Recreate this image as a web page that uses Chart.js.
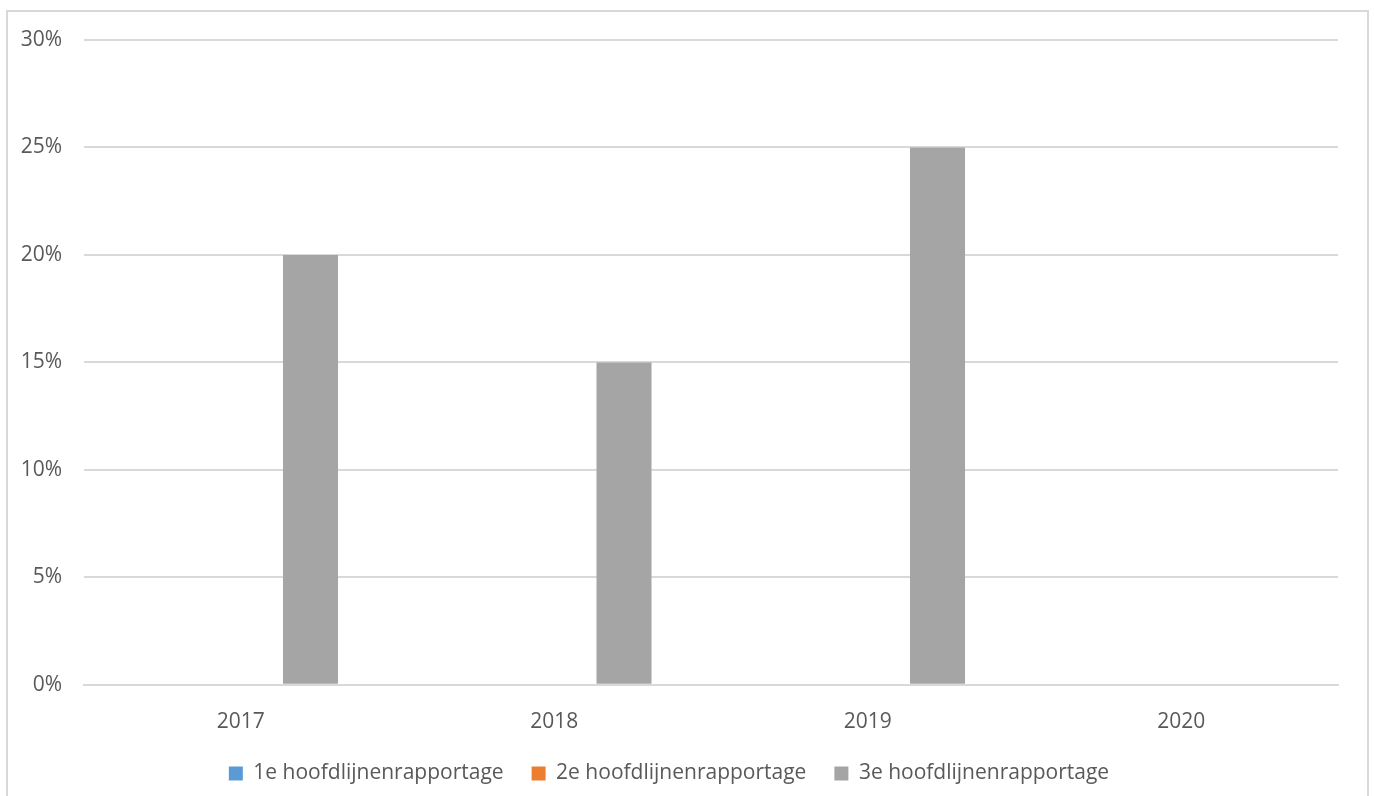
<!DOCTYPE html>
<html>
<head>
<meta charset="utf-8">
<script src="https://cdn.jsdelivr.net/npm/chart.js@4"></script>
<style>
  html, body { margin: 0; padding: 0; background: #fff; }
  #wrap { position: relative; width: 1374px; height: 796px; }
</style>
</head>
<body>
<div id="wrap"><canvas id="chart" width="1374" height="796"></canvas></div>
<script>
const years = ['2017', '2018', '2019', '2020'];
const seriesNames = ['1e hoofdlijnenrapportage', '2e hoofdlijnenrapportage', '3e hoofdlijnenrapportage'];
const rapportage1 = [0, 0, 0, 0];
const rapportage2 = [0, 0, 0, 0];
const rapportage3 = [20, 15, 25, 0];
const seriesColors = ['#5B9BD5', '#ED7D31', '#A5A5A5'];

const frame = {
    id: 'frame',
    beforeDraw(chart) {
        const c = chart.ctx;
        c.save();
        c.strokeStyle = '#d9d9d9';
        c.lineWidth = 2;
        c.strokeRect(7, 11, 1361, 800);
        c.restore();
    }
};

const font = { family: '"Open Sans", sans-serif', size: 21 };

new Chart(document.getElementById('chart').getContext('2d'), {
    type: 'bar',
    data: {
        labels: years,
        datasets: [rapportage1, rapportage2, rapportage3].map((d, i) => ({
            label: seriesNames[i],
            data: d,
            backgroundColor: seriesColors[i],
            categoryPercentage: 0.6675,
            barPercentage: 0.789
        }))
    },
    options: {
        responsive: false,
        animation: false,
        layout: { padding: { left: 0, right: 36, top: 40, bottom: 2 } },
        scales: {
            x: {
                afterFit(scale) { scale.height -= 17; },
                grid: { display: false },
                border: { display: true, color: '#d9d9d9', width: 2 },
                ticks: { color: '#595959', font: font, padding: 17 }
            },
            y: {
                min: 0, max: 30,
                afterFit(scale) { scale.width = 84; },
                grid: { color: '#d9d9d9', lineWidth: 2, drawTicks: false },
                border: { display: false },
                ticks: {
                    stepSize: 5, color: '#595959', font: font, padding: 22,
                    callback: v => v + '%'
                }
            }
        },
        plugins: {
            legend: {
                position: 'bottom',
                labels: {
                    color: '#595959',
                    font: { family: font.family, size: 21, lineHeight: 1.0 },
                    boxWidth: 14, boxHeight: 14, padding: 28
                }
            },
            tooltip: { enabled: false }
        }
    },
    plugins: [frame]
});
</script>
</body>
</html>
